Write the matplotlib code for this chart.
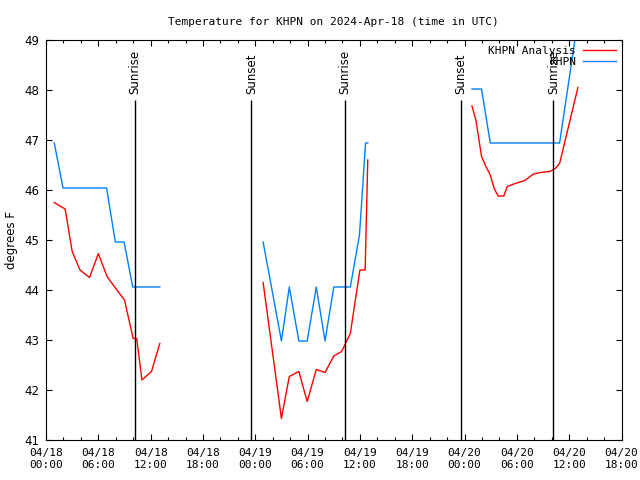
import numpy as np
import matplotlib.pyplot as plt

nan = np.nan

# hours since 2024-04-18 00:00 UTC
analysis_hours = [0.95, 1.4, 2.2, 3.0, 3.9, 5.0, 6.0, 7.0, 8.0, 9.0, 10.0, 10.4, 11.0, 12.1, 13.05, nan,
                  24.9, 27.0, 27.9, 29.0, 29.95, 31.0, 32.0, 33.0, 33.9, 34.9, 36.0, 36.6, 36.9, nan,
                  48.85, 49.3, 49.95, 50.45, 50.95, 51.4, 51.85, 52.5, 52.9, 53.8, 54.9, 55.9, 56.7, 57.8,
                  58.4, 58.9, 61.0]
analysis_temp = [45.75, 45.70, 45.62, 44.77, 44.40, 44.25, 44.73, 44.27, 44.03, 43.80, 43.03, 43.03, 42.20,
                 42.37, 42.93, nan,
                 44.15, 41.43, 42.27, 42.37, 41.77, 42.41, 42.35, 42.68, 42.77, 43.13, 44.40, 44.40, 46.60, nan,
                 47.68, 47.40, 46.67, 46.47, 46.30, 46.03, 45.88, 45.88, 46.07, 46.13, 46.19, 46.32, 46.35,
                 46.37, 46.43, 46.53, 48.05]

obs_hours = [0.95, 1.95, 6.95, 7.95, 8.95, 9.95, 13.05, nan,
             24.9, 27.0, 27.9, 29.0, 29.95, 31.0, 32.0, 33.0, 34.9, 35.95, 36.65, 36.9, nan,
             48.85, 49.95, 50.95, 58.9, 61.0]
obs_temp = [46.94, 46.04, 46.04, 44.96, 44.96, 44.06, 44.06, nan,
            44.96, 42.98, 44.06, 42.98, 42.98, 44.06, 42.98, 44.06, 44.06, 45.1, 46.94, 46.94, nan,
            48.02, 48.02, 46.94, 46.94, 49.4]

sun_hours = [10.2, 23.55, 34.25, 47.55, 58.2]
sun_labels = ['Sunrise', 'Sunset', 'Sunrise', 'Sunset', 'Sunrise']

tick_hours = list(range(0, 67, 6))
tick_labels = ['04/18\n00:00', '04/18\n06:00', '04/18\n12:00', '04/18\n18:00',
               '04/19\n00:00', '04/19\n06:00', '04/19\n12:00', '04/19\n18:00',
               '04/20\n00:00', '04/20\n06:00', '04/20\n12:00', '04/20\n18:00']

mono = 'DejaVu Sans Mono'

fig = plt.figure(figsize=(6.4, 4.8), dpi=100)
ax = fig.add_axes([46 / 640, 40 / 480, (621.5 - 46) / 640, 400 / 480])

ax.plot(analysis_hours, analysis_temp, color='#ff0000', lw=1.0, label='KHPN Analysis')
ax.plot(obs_hours, obs_temp, color='#0080ff', lw=1.0, label='KHPN')

# sunrise / sunset markers
ax.vlines(sun_hours, 41, 47.8, color='black', lw=1.0)
for h, lab in zip(sun_hours, sun_labels):
    ax.text(h, 47.93, lab, rotation=90, ha='center', va='bottom', fontsize=8.5)

ax.set_xlim(0, 66)
ax.set_ylim(41, 49)
ax.set_xticks(tick_hours)
ax.set_xticklabels(tick_labels, family=mono, fontsize=8)
ax.set_xticks(range(0, 67, 2), minor=True)
ax.set_yticks(range(41, 50))
ax.tick_params(axis='both', which='both', direction='in', top=True, right=True)
ax.tick_params(which='major', length=4, width=0.8)
ax.tick_params(which='minor', length=2.5, width=0.8)
ax.tick_params(axis='x', pad=6)
ax.tick_params(axis='y', labelsize=8.5, pad=5)

ax.set_ylabel('degrees F', fontsize=8.5, labelpad=4)
ax.set_title('Temperature for KHPN on 2024-Apr-18 (time in UTC)', family=mono, fontsize=8, pad=11)

ax.legend(loc='upper right', frameon=False, markerfirst=False, prop={'family': mono, 'size': 8},
          handlelength=3.0, handletextpad=0.6, labelspacing=0.1, borderaxespad=0.2, borderpad=0.3)

fig.savefig('out.png', dpi=100)
